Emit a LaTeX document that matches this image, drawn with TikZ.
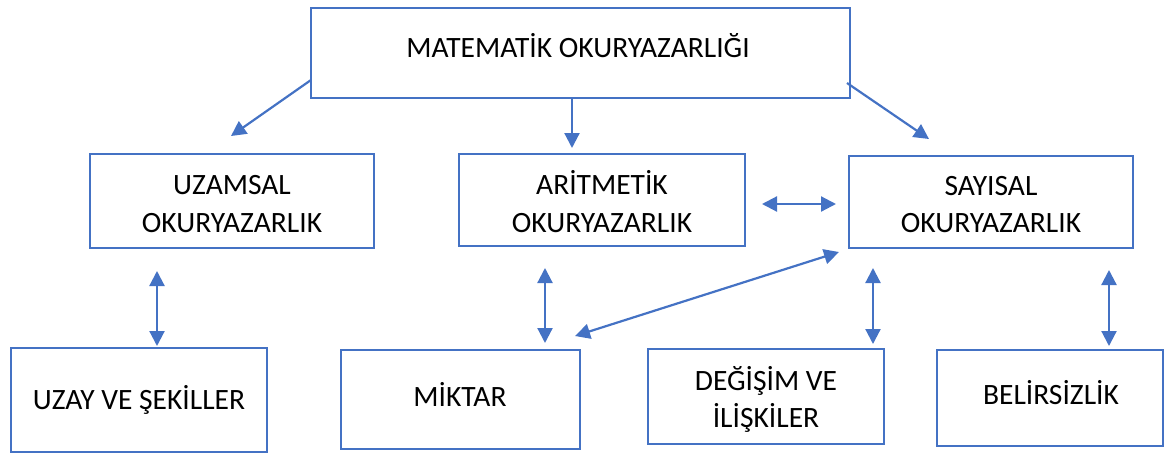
\documentclass[tikz,border=0pt]{standalone}
\usepackage{fontspec}
\setmainfont{Carlito}
\usetikzlibrary{arrows.meta}
\definecolor{boxblue}{HTML}{4472C4}
\begin{document}
\begin{tikzpicture}[x=1pt,y=-1pt,
  box/.style={draw=boxblue,line width=2.2pt,rectangle,inner sep=0pt},
  lbl/.style={anchor=base,inner sep=0pt,font=\fontsize{29.5}{38}\selectfont},
  tip/.style={Triangle[length=15pt,width=15pt]},
  link/.style={draw=boxblue,line width=2.2pt,-{Triangle[length=15pt,width=15pt]}},
  both/.style={draw=boxblue,line width=2.2pt,{Triangle[length=15pt,width=15pt]}-{Triangle[length=15pt,width=15pt]}}]
\useasboundingbox (0,0) rectangle (1165,453);

% boxes
\node[box,minimum width=539pt,minimum height=90pt] (top) at (580.5,53) {};
\node[box,minimum width=284pt,minimum height=94pt] (uzamsal) at (232,201) {};
\node[box,minimum width=286pt,minimum height=92pt] (aritmetik) at (602,200) {};
\node[box,minimum width=284pt,minimum height=92pt] (sayisal) at (991,202) {};
\node[box,minimum width=256pt,minimum height=104pt] (uzay) at (139,400) {};
\node[box,minimum width=239pt,minimum height=99pt] (miktar) at (460.5,399.5) {};
\node[box,minimum width=236pt,minimum height=95pt] (degisim) at (766,396.5) {};
\node[box,minimum width=226pt,minimum height=96pt] (belirsizlik) at (1050,398) {};

% labels
\node[lbl] (ttop) at (578,57) {MATEMATİK OKURYAZARLIĞI};
\node[lbl] (tuz1) at (232,194) {UZAMSAL};
\node[lbl] (tuz2) at (232,232) {OKURYAZARLIK};
\node[lbl] (tar1) at (602,194) {ARİTMETİK};
\node[lbl] (tar2) at (602,232) {OKURYAZARLIK};
\node[lbl] (tsa1) at (991,195) {SAYISAL};
\node[lbl] (tsa2) at (991,232) {OKURYAZARLIK};
\node[lbl] (tuy) at (139,409) {UZAY VE ŞEKİLLER};
\node[lbl] (tmi) at (460,406) {MİKTAR};
\node[lbl] (tde1) at (766,390) {DEĞİŞİM VE};
\node[lbl] (tde2) at (766,427) {İLİŞKİLER};
\node[lbl] (tbe) at (1051,404) {BELİRSİZLİK};

% free ends of the connectors
\coordinate (a1s) at (311,80);   \coordinate (a1e) at (231,136);
\coordinate (a2s) at (572,98);   \coordinate (a2e) at (572,148);
\coordinate (a3s) at (847,83);   \coordinate (a3e) at (929,139);
\coordinate (h1s) at (762,204);  \coordinate (h1e) at (836,204);
\coordinate (v1s) at (157,271);  \coordinate (v1e) at (157,346);
\coordinate (v2s) at (545,268);  \coordinate (v2e) at (545,343);
\coordinate (v3s) at (873,268);  \coordinate (v3e) at (873,344);
\coordinate (v4s) at (1109,270); \coordinate (v4e) at (1109,346);
\coordinate (d1s) at (575,336);  \coordinate (d1e) at (839,252);

% connectors
\draw[link] (a1s) -- (a1e);
\draw[link] (a2s) -- (a2e);
\draw[link] (a3s) -- (a3e);
\draw[both] (h1s) -- (h1e);
\draw[both] (v1s) -- (v1e);
\draw[both] (v2s) -- (v2e);
\draw[both] (v3s) -- (v3e);
\draw[both] (v4s) -- (v4e);
\draw[both] (d1s) -- (d1e);
\end{tikzpicture}
\end{document}
